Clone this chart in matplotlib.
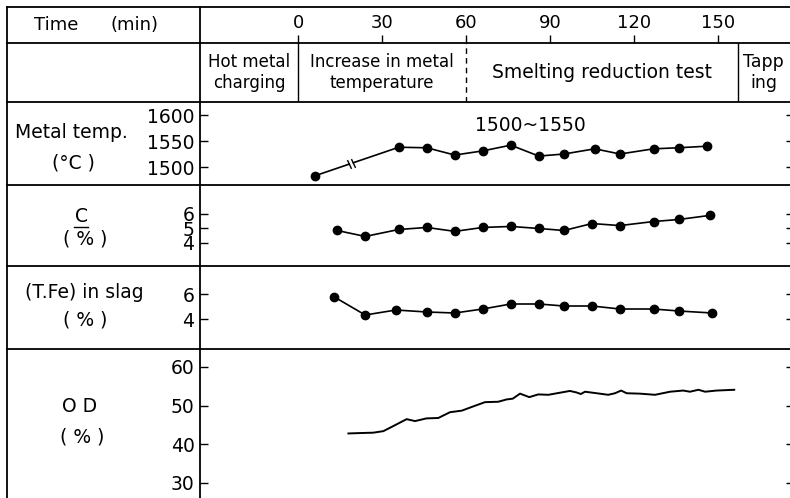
import matplotlib
matplotlib.use("Agg")
import matplotlib.pyplot as plt
from matplotlib.lines import Line2D
import numpy as np

# ---------------- data ----------------
time_ticks = [0, 30, 60, 90, 120, 150]
phase_bounds = [0, 60, 157]          # 0 solid, 60 dashed, 157 solid
phase_styles = ["-", (0, (4, 3)), "-"]
phase_labels = ["Hot metal\ncharging", "Increase in metal\ntemperature",
                "Smelting reduction test", "Tapp\ning"]
phase_sizes = [12, 12, 13.5, 12.5]

temp_time = [6, 36, 46, 56, 66, 76, 86, 95, 106, 115, 127, 136, 146]
temp_val = [1483, 1538, 1537, 1523, 1531, 1542, 1521, 1525, 1535, 1525, 1535, 1537, 1540]
temp_ticks = [1500, 1550, 1600]

c_time = [14, 24, 36, 46, 56, 66, 76, 86, 95, 105, 115, 127, 136, 147]
c_val = [4.86, 4.45, 4.93, 5.07, 4.8, 5.07, 5.14, 5.0, 4.86, 5.34, 5.2, 5.48, 5.62, 5.9]
c_ticks = [4, 5, 6]

tfe_time = [13, 24, 35, 46, 56, 66, 76, 86, 95, 105, 115, 127, 136, 148]
tfe_val = [5.76, 4.32, 4.72, 4.56, 4.48, 4.8, 5.2, 5.2, 5.04, 5.04, 4.8, 4.8, 4.64, 4.48]
tfe_ticks = [4, 6]

od_time = [18.0, 22.1, 26.9, 30.5, 34.0, 38.8, 41.8, 45.9, 50.1, 54.3, 58.5, 62.6,
           66.8, 71.5, 74.5, 76.7, 79.3, 82.6, 85.8, 89.4, 97.1, 99.5, 101.0, 102.5,
           106.7, 110.8, 113.2, 115.4, 117.4, 122.1, 127.5, 132.9, 137.6, 140.0,
           143.0, 145.4, 149.5, 155.8]
od_val = [42.8, 42.9, 43.0, 43.4, 44.7, 46.5, 46.0, 46.7, 46.8, 48.3, 48.7, 49.8,
          50.9, 51.0, 51.6, 51.8, 53.1, 52.2, 52.9, 52.8, 53.8, 53.4, 53.0, 53.6,
          53.2, 52.8, 53.2, 53.9, 53.2, 53.1, 52.8, 53.6, 53.9, 53.6,
          54.1, 53.6, 53.9, 54.1]
od_ticks = [30, 40, 50, 60]

# ---------------- layout (pixels) ----------------
W, H = 790, 498
XL, XD, XR = 7, 200, 790
rows = [7, 43, 102, 185, 266, 349, 498]
XLIM = ((200 - 298) / 2.8, (790 - 298) / 2.8)

plt.rcParams['font.family'] = ['DejaVu Sans']
fig = plt.figure(figsize=(W / 100, H / 100), dpi=100)
fig.patch.set_facecolor("white")
LW = 1.3


def rect(x0, y0, x1, y1):
    return [x0 / W, 1 - y1 / H, (x1 - x0) / W, (y1 - y0) / H]


def fline(xs, ys, **kw):
    fig.add_artist(Line2D([x / W for x in xs], [1 - y / H for y in ys],
                          transform=fig.transFigure, color="black",
                          lw=kw.pop("lw", LW), **kw))


def ftext(x, y, s, **kw):
    fig.text(x / W, 1 - y / H, s, ha=kw.pop("ha", "center"), va=kw.pop("va", "center"),
             fontsize=kw.pop("fontsize", 13.5), **kw)


def bare_axes(y0, y1):
    ax = fig.add_axes(rect(XD, y0, XR, y1))
    ax.set_xlim(*XLIM)
    for s in ax.spines.values():
        s.set_visible(False)
    ax.patch.set_alpha(0)
    return ax


# ---------------- header row ----------------
axh = bare_axes(rows[0], rows[1])
axh.set_ylim(0, 1)
axh.set_yticks([])
axh.set_xticks(time_ticks)
axh.tick_params(axis="x", direction="in", length=6, width=1.0, labelbottom=False)
for t in time_ticks:
    axh.text(t, 0.55, str(t), ha="center", va="center", fontsize=13)
ftext(56, 25, "Time", fontsize=13)
ftext(134, 25, "(min)", fontsize=13)

# ---------------- phase row ----------------
axp = bare_axes(rows[1], rows[2])
axp.set_ylim(0, 1)
axp.set_xticks([])
axp.set_yticks([])
for b, ls in zip(phase_bounds, phase_styles):
    axp.axvline(b, color="black", lw=1.0, ls=ls)
edges = [XLIM[0]] + phase_bounds + [XLIM[1]]
for i, (lab, fs) in enumerate(zip(phase_labels, phase_sizes)):
    cx = (edges[i] + edges[i + 1]) / 2
    axp.text(cx, 0.5, lab, ha="center", va="center", fontsize=fs, linespacing=1.15)


def data_axes(y0, y1, ylim, ticks):
    ax = bare_axes(y0, y1)
    ax.set_ylim(*ylim)
    ax.set_yticks(ticks)
    ax.set_xticks([])
    ax.tick_params(axis="y", direction="in", length=6, width=1.0, pad=4,
                   labelsize=13.5)
    axr = ax.twinx()
    for s in axr.spines.values():
        s.set_visible(False)
    axr.set_ylim(*ylim)
    axr.set_yticks(ticks)
    axr.tick_params(axis="y", direction="in", length=3, width=1.0, labelright=False)
    return ax


mk = dict(color="black", lw=1.2, marker="o", markersize=6)

# temperature
axt = data_axes(rows[2], rows[3], (1465.4, 1625), temp_ticks)
p0 = np.array([temp_time[0], temp_val[0]], float)
p1 = np.array([temp_time[1], temp_val[1]], float)
ga, gb = p0 + 0.41 * (p1 - p0), p0 + 0.46 * (p1 - p0)
axt.plot([p0[0], ga[0]], [p0[1], ga[1]], color="black", lw=1.2)
axt.plot([gb[0], p1[0]], [gb[1], p1[1]], color="black", lw=1.2)
for g in (ga, gb):
    axt.plot([g[0]], [g[1]], marker=(2, 0, 25), markersize=7, color="black", mew=1.0)
axt.plot(temp_time[:1], temp_val[:1], ls="none", color="black", marker="o", markersize=6)
axt.plot(temp_time[1:], temp_val[1:], **mk)
axt.text(83, 1579, "1500~1550", ha="center", va="center", fontsize=13.5)

# carbon
axc = data_axes(rows[3], rows[4], (2.41, 8.0), c_ticks)
axc.plot(c_time, c_val, **mk)

# T.Fe
axf = data_axes(rows[4], rows[5], (1.6, 8.24), tfe_ticks)
axf.plot(tfe_time, tfe_val, **mk)

# OD
axo = data_axes(rows[5], rows[6], (26.1, 64.65), od_ticks)
axo.plot(od_time, od_val, color="black", lw=1.4)

# ---------------- table grid ----------------
for y in rows[:-1]:
    fline([XL, XR], [y, y])
fline([XL, XL], [rows[0], H])
fline([XD, XD], [rows[0], H])

# ---------------- row labels ----------------
ftext(71, 132, "Metal temp.")
ftext(73, 163, "(°C )")
ftext(81, 216, "C")
fline([74, 88], [227, 227], lw=1.0)
ftext(85, 239, "( % )")
ftext(84, 293, "(T.Fe) in slag")
ftext(85, 320, "( % )")
ftext(80, 407, "O D")
ftext(82, 437, "( % )")

fig.savefig("out.png", dpi=100, facecolor="white")
